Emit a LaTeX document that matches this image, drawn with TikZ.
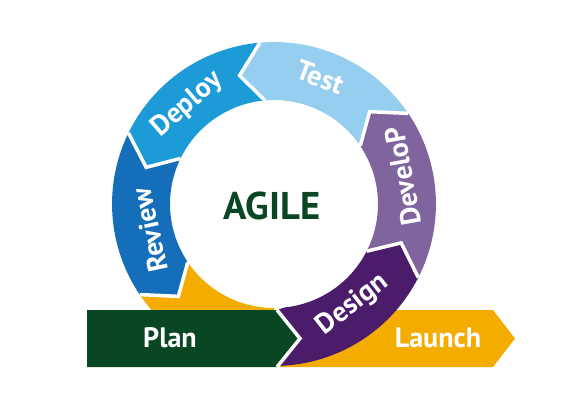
\documentclass[tikz,border=0pt]{standalone}
\usepackage{fontspec}
\setmainfont{PT Sans}
\definecolor{plangreen}{RGB}{8,70,36}
\definecolor{launchyellow}{RGB}{245,172,0}
\definecolor{designpurple}{RGB}{75,28,106}
\definecolor{developpurple}{RGB}{128,100,158}
\definecolor{testblue}{RGB}{150,206,240}
\definecolor{deployblue}{RGB}{28,155,215}
\definecolor{reviewblue}{RGB}{20,110,185}

\begin{document}
\begin{tikzpicture}[
        x=0.02cm, y=0.02cm,
        gap/.style={white,line width=2pt,line join=miter},
        ringlabel/.style={text=white,inner sep=0pt,font=\fontsize{16}{16}\selectfont\bfseries},
        barlabel/.style={text=white,inner sep=0pt,font=\fontsize{16}{16}\selectfont\bfseries}
      ]
      \useasboundingbox (0,0) rectangle (576,407);
      \def\rout{3.24cm}
      \def\rin{2.08cm}
      \def\rmid{2.66cm}
      \fill[launchyellow] (280,97) -- (493,97) -- (515,68.5) -- (493,40) -- (280,40) -- cycle;
      \begin{scope}[shift={(274,203)}]
        \fill[launchyellow] (214:\rout) arc[start angle=214,end angle=270,radius=\rout]
          -- (270:\rin) arc[start angle=270,end angle=214,radius=\rin] -- cycle;
        \foreach \s/\e/\c in {154/214/reviewblue,95/154/deployblue,34/95/testblue,333/394/developpurple} {
          \fill[\c] (\s:\rout) arc[start angle=\s,end angle=\e,radius=\rout]
            -- (\e+10:\rmid) -- (\e:\rin) arc[start angle=\e,end angle=\s,radius=\rin] -- cycle;
          \draw[gap] (\e:\rout) -- (\e+10:\rmid) -- (\e:\rin);
        }
        \fill[designpurple] (276:\rin) -- (3,-106) -- (26,-134.5) -- (3,-163)
          -- (271:\rout) arc[start angle=271,end angle=333,radius=\rout]
          -- (343:\rmid) -- (333:\rin) arc[start angle=333,end angle=276,radius=\rin] -- cycle;
        \draw[gap] (333:\rout) -- (343:\rmid) -- (333:\rin);
        \node (test) [ringlabel,rotate=-20] at (70:2.7cm) {Test};
        \node (deploy) [ringlabel,rotate=41] at (131:2.64cm) {Deploy};
        \node (review) [ringlabel,rotate=102] at (192:2.54cm) {Review};
        \node (develop) [ringlabel,rotate=100] at (12:2.64cm) {DeveloP};
        \node (design) [ringlabel,rotate=38] at (308:2.56cm) {Design};
      \end{scope}
      \fill[plangreen] (87,97) -- (277,97) -- (300,68.5) -- (277,40) -- (87,40) -- cycle;
      \draw[gap] (277,97) -- (300,68.5) -- (277,40);
      \node (agile) [text=plangreen,font=\fontsize{22}{22}\selectfont\bfseries] at (272,201) {AGILE};
      \node (plan) [barlabel] at (170,69) {Plan};
      \node (launch) [barlabel] at (438,69) {Launch};
    \end{tikzpicture}
\end{document}
